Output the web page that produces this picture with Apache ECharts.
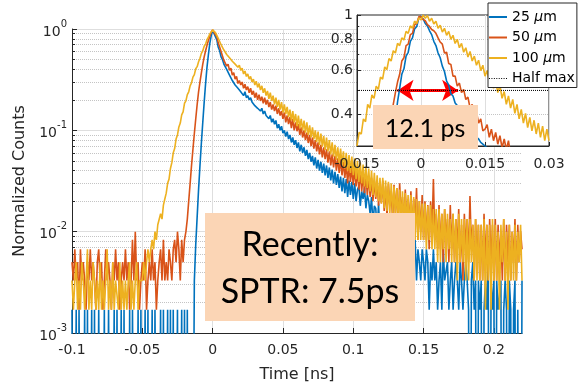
<!DOCTYPE html>
<html><head><meta charset="utf-8">
<script src="https://cdn.jsdelivr.net/npm/echarts@6/dist/echarts.min.js"></script>
<style>html,body{margin:0;padding:0;background:#fff}#c{width:582px;height:388px}</style>
</head><body><div id="c"></div>
<script>
// ---------- data ----------
const seriesNames = ['25 \u03bcm', '50 \u03bcm', '100 \u03bcm'];
const halfMaxName = 'Half max';
const colors = ['#0072BD', '#D95319', '#EDB120'];

// main plot: histogram bins every 1 ps from -0.1 ns
const mainT0 = -0.1, mainDt = 0.001;
const main25 = [
.0017,0,0,.0017,0,.0017,.0017,0,0,.0017,
0,.0017,0,0,.0017,0,.0017,0,0,.0017,
.0017,0,0,.0017,0,0,.0017,.0017,0,0,
.0017,0,.0017,0,0,.0017,0,.0017,0,0,
0,.0017,0,.0017,.0017,0,0,.0017,0,.0017,
0,0,.0017,0,.0017,0,0,.0017,0,.0017,
.0017,0,0,.0017,0,.0017,0,0,.0017,0,
.0017,0,.0017,0,0,.0017,0,0,.0017,0,
.0017,0,.0017,0,0,0,0,.0033,.0075,.014,
.026,.045,.075,.12,.19,.29,.42,.56,.72,.86,
.97,.94,.84,.78,.66,.61,.53,.50,.45,.44,
.40,.39,.35,.35,.31,.31,.28,.29,.26,.27,
.24,.25,.22,.24,.21,.22,.20,.21,.19,.19,
.175,.18,.165,.17,.155,.165,.145,.155,.14,.145,
.13,.14,.12,.13,.115,.125,.105,.115,.10,.11,
.094,.10,.087,.097,.082,.09,.076,.085,.072,.08,
.067,.076,.062,.072,.06,.068,.056,.064,.052,.06,
.049,.056,.045,.054,.042,.051,.04,.049,.038,.047,
.036,.045,.034,.043,.032,.041,.03,.039,.029,.037,
.027,.035,.025,.034,.024,.033,.022,.032,.023,.031,
.021,.03,.02,.026,.028,.018,.025,.021,.027,.017,
.023,.02,.015,.022,.0117,.018,.017,.01,.019,.0083,
.015,.0133,.0083,.0117,.01,.0067,.0117,.0083,.0117,.0067,
.0083,.0083,.005,.0067,.01,.005,.0067,.0033,.0083,.005,
.0067,.0067,.0033,.005,.0083,.0033,.0067,.005,.0033,.0067,
.005,.0033,.0067,.005,.0017,.005,.0033,.0067,.0033,.005,
.0017,.0033,.005,.0017,.0067,.0033,.0033,.005,.0017,.0033,
.005,.0017,.0033,.005,.0033,.0017,.005,.0033,.0017,.0033,
.005,.0033,.0017,0,.0033,.005,.0017,.0033,0,.0033,
.0017,.0033,0,.0017,.0033,.0017,.005,0,.0033,.0017,
.0033,0,.0033,.0017,.0017,.0033,0,.0017,.0033,.0017,
0,.0033,.0017,0,.0017,.0033,0,.0017,.0017,0,
.0033
];
const main50 = [
.005,.0033,.0067,.0033,.005,.0017,.0067,.0033,.005,.0033,
.0017,.005,.0033,.0067,.0033,.005,.0033,.0017,.005,.0067,
.0033,.005,.0017,.0033,.0067,.0033,.005,.0033,.0017,.005,
.0033,.0067,.0033,.005,.0017,.0033,.005,.0033,.0067,.0033,
.005,.0017,.0033,.0083,.0033,.01,.0033,.005,.0017,.0033,
.005,.0033,.0067,.0017,.0033,.005,.0033,.0067,.0033,.005,
.0017,.0033,.005,.0067,.0033,.0083,.0033,.005,.0033,.0067,
.005,.0033,.0067,.0083,.005,.01,.0067,.0033,.0083,.005,
.0083,.01,.0133,.02,.03,.045,.065,.093,.13,.18,
.24,.30,.37,.45,.53,.61,.69,.77,.85,.93,
.98,.96,.88,.84,.73,.70,.60,.58,.49,.50,
.43,.45,.39,.41,.35,.37,.32,.34,.29,.31,
.28,.30,.26,.285,.25,.27,.235,.26,.225,.245,
.21,.235,.20,.225,.195,.215,.185,.21,.18,.20,
.17,.19,.16,.18,.155,.175,.145,.165,.14,.155,
.13,.15,.12,.14,.115,.135,.105,.13,.10,.12,
.098,.115,.09,.107,.085,.10,.08,.095,.075,.09,
.07,.085,.066,.08,.062,.076,.058,.072,.054,.068,
.052,.065,.048,.062,.045,.058,.043,.056,.04,.053,
.038,.052,.036,.049,.034,.047,.03,.045,.031,.043,
.029,.042,.028,.04,.026,.039,.025,.037,.024,.036,
.023,.035,.022,.034,.02,.032,.021,.031,.018,.03,
.019,.032,.016,.028,.014,.03,.018,.025,.013,.029,
.015,.027,.012,.03,.015,.022,.0117,.026,.013,.021,
.0117,.025,.01,.021,.0117,.027,.0083,.02,.01,.023,
.0083,.02,.0083,.0183,.0067,.02,.01,.033,.0083,.015,
.0067,.0183,.0067,.015,.005,.0167,.0083,.0133,.005,.0183,
.0067,.015,.005,.0133,.0067,.0167,.005,.0117,.0033,.015,
.0067,.0133,.005,.0225,.0067,.0117,.0033,.0133,.005,.0117,
.0033,.0117,.0033,.015,.005,.0117,.0033,.0133,.005,.0117,
.0033,.0133,.0033,.0117,.005,.01,.0033,.0133,.0033,.0117,
.005,.0117,.0033,.01,.005,.0133,.0033,.0117,.005,.01,
.0067
];
const main100 = [
.0033,.0017,.0033,.005,.0017,.0033,.0017,.005,.0033,.0017,
.0033,.0067,.0017,.0033,.0017,.005,.0033,.0017,.0033,.0017,
.005,.0017,.0033,.0017,.0033,.0067,.0017,.0033,.0017,.005,
.0017,.0033,.0033,.0017,.005,.0017,.0033,.0017,.0033,.0017,
.0033,.005,.0017,.0033,.0017,.0033,.005,.0017,.0033,.0033,
.0033,.005,.0033,.005,.0067,.005,.0067,.0083,.0067,.01,
.0083,.0117,.0117,.015,.0133,.0183,.021,.024,.03,.033,
.042,.048,.06,.066,.082,.09,.108,.118,.142,.152,
.185,.195,.225,.24,.275,.295,.335,.355,.405,.425,
.475,.515,.575,.61,.675,.71,.785,.83,.895,.93,
.98,.97,.92,.89,.81,.79,.70,.70,.62,.63,
.56,.58,.52,.54,.48,.50,.45,.47,.42,.44,
.39,.41,.36,.385,.34,.36,.32,.34,.30,.32,
.28,.305,.265,.29,.25,.275,.235,.26,.22,.245,
.205,.235,.195,.22,.18,.21,.17,.20,.16,.19,
.15,.18,.145,.17,.135,.16,.125,.155,.12,.145,
.11,.14,.105,.13,.10,.125,.095,.12,.09,.112,
.085,.107,.082,.10,.077,.097,.072,.093,.069,.088,
.064,.085,.062,.08,.058,.076,.055,.072,.051,.068,
.048,.066,.045,.062,.042,.06,.04,.057,.038,.055,
.036,.053,.033,.05,.031,.048,.03,.046,.028,.044,
.027,.042,.025,.04,.023,.038,.022,.036,.02,.034,
.019,.034,.017,.032,.016,.031,.015,.03,.015,.028,
.014,.027,.013,.026,.012,.025,.0117,.024,.0117,.023,
.01,.023,.01,.022,.0083,.021,.0083,.02,.0083,.019,
.0083,.019,.0067,.018,.0083,.0183,.0067,.0167,.0067,.0167,
.005,.0167,.005,.015,.0067,.0167,.005,.015,.0067,.0133,
.005,.015,.005,.0133,.0033,.015,.005,.0133,.005,.0133,
.0033,.0133,.0033,.0133,.005,.0117,.0033,.0133,.0033,.0117,
.0033,.0117,.0033,.0133,.0017,.0117,.0033,.0117,.0017,.0133,
.0033,.0117,.0033,.01,.0017,.0117,.005,.0133,.0033,.01,
.0017,.0117,.0033,.01,.0033,.0117,.0033,.01,.005,.0117,
.0033
];

// inset: bins every 0.5 ps from -0.015 ns
const insetT0 = -0.015, insetDt = 0.0005;
const inset25 = [
.002,.0025,.003,.004,.005,.007,.01,.014,.02,.03,
.045,.065,.09,.12,.16,.2,.25,.31,.38,.45,
.51,.58,.61,.685,.71,.785,.81,.88,.90,.975,
.99,.965,.925,.905,.865,.835,.785,.755,.705,.675,
.625,.595,.545,.525,.485,.475,.445,.435,.405,.395,
.38,.37,.36,.35,.34,.33,.325,.32,.31,.305,
.30,.295,.29,.285,.28,.275,.27,.265,.26,.255,
.25,.248,.245,.242,.24,.238,.235,.232,.23,.228,
.226,.224,.222,.22,.218,.216,.214,.212,.21,.208,.206
];
const inset50 = [
.04,.05,.06,.07,.08,.09,.10,.115,.13,.145,
.16,.19,.22,.26,.30,.34,.39,.44,.49,.54,
.58,.655,.675,.755,.765,.835,.845,.915,.925,.985,
.985,.96,.95,.915,.90,.875,.865,.845,.81,.78,
.765,.705,.71,.64,.635,.57,.57,.52,.535,.49,
.505,.46,.47,.425,.44,.395,.41,.37,.385,.345,
.35,.365,.325,.35,.315,.34,.305,.33,.295,.32,
.29,.315,.275,.295,.265,.285,.26,.275,.255,.27,
.258,.262,.255,.258,.252,.255,.25,.252,.248,.25,.245
];
const inset100 = [
.30,.34,.335,.385,.375,.44,.425,.48,.465,.52,
.505,.565,.555,.62,.605,.67,.655,.72,.705,.77,
.755,.81,.795,.86,.845,.905,.885,.945,.925,.975,
.955,1.0,.97,.995,.945,.97,.92,.945,.885,.91,
.855,.885,.83,.86,.80,.83,.77,.80,.74,.77,
.71,.74,.68,.715,.655,.685,.63,.66,.60,.63,
.57,.60,.54,.57,.51,.545,.49,.525,.465,.495,
.44,.475,.425,.46,.405,.44,.385,.42,.37,.405,
.355,.39,.345,.38,.335,.37,.325,.36,.315,.35,.315
];
const halfMax = 0.5;
const fwhmArrow = [-0.0055, 0.0087];   // ends of the red FWHM arrow (ns)
const fwhmLabel = '12.1 ps';
const noteLines = ['Recently:', 'SPTR: 7.5ps'];

// axis ranges / ticks
const mainX = {min: -0.1, max: 0.22, interval: 0.05};
const mainXTicks = [-0.1, -0.05, 0, 0.05, 0.1, 0.15, 0.2];
const mainY = {min: 0.001, max: 1};
const insetX = {min: -0.015, max: 0.03, interval: 0.015};
const insetY = {min: 0.3, max: 1};
const insetYTicks = [0.4, 0.6, 0.8, 1];

// ---------- build ----------
const ZERO = 1e-7; // zero-count bins fall below the log axis (clipped)
function pairs(t0, dt, arr) {
  return arr.map((v, i) => [+(t0 + i * dt).toFixed(5), v > 0 ? v : ZERO]);
}
const mainMinor = [];
[0.001, 0.01, 0.1].forEach(d => { for (let m = 2; m <= 9; m++) mainMinor.push(+(m * d).toPrecision(2)); });
const insetMinor = [0.3, 0.4, 0.5, 0.6, 0.7, 0.8, 0.9];

const FONT = 'DejaVu Sans';
const AX = '#262626';
const GRID = '#dedede';
const MINOR = '#c4c4c4';

const mainData = [main25, main50, main100];
const insetData = [inset25, inset50, inset100];

const series = [];
mainData.forEach((arr, k) => series.push({
  name: seriesNames[k], type: 'line', xAxisIndex: 0, yAxisIndex: 0,
  data: pairs(mainT0, mainDt, arr), symbol: 'none', showSymbol: false,
  lineStyle: {width: 1.6, color: colors[k]}, itemStyle: {color: colors[k]},
  z: 2, animation: false, clip: true
}));
insetData.forEach((arr, k) => series.push({
  name: seriesNames[k], type: 'line', xAxisIndex: 1, yAxisIndex: 2,
  data: pairs(insetT0, insetDt, arr), symbol: 'none', showSymbol: false,
  lineStyle: {width: 1.6, color: colors[k]}, itemStyle: {color: colors[k]},
  z: 6, animation: false, clip: true
}));
series.push({
  name: halfMaxName, type: 'line', xAxisIndex: 1, yAxisIndex: 2,
  data: [[insetX.min, halfMax], [insetX.max, halfMax]], symbol: 'none',
  lineStyle: {width: 1, color: '#000', type: 'dotted'}, itemStyle: {color: '#000'},
  z: 7, animation: false,
  markLine: {
    silent: true, animation: false, symbol: ['arrow', 'arrow'], symbolSize: [16, 16],
    lineStyle: {color: '#ff0000', width: 3, type: 'solid'}, label: {show: false},
    data: [[{coord: [fwhmArrow[0], halfMax]}, {coord: [fwhmArrow[1], halfMax]}]]
  }
});

const tickLabel = {fontFamily: FONT, fontSize: 14, color: AX};
const dottedIcon = 'path://M0,0h1v1h-1zM2.5,0h1v1h-1zM5,0h1v1h-1zM7.5,0h1v1h-1zM10,0h1v1h-1zM12.5,0h1v1h-1zM15,0h1v1h-1zM17.5,0h1v1h-1z';

const option = {
  animation: false,
  backgroundColor: '#fff',
  grid: [
    {left: 72, top: 29, width: 450, height: 306},
    {left: 357, top: 15, width: 192, height: 131, show: true, backgroundColor: '#fff',
     borderColor: AX, borderWidth: 1, z: 3}
  ],
  xAxis: [
    {type: 'value', gridIndex: 0, position: 'bottom', min: mainX.min, max: mainX.max, interval: mainX.interval,
     axisLine: {onZero: false, lineStyle: {color: AX}},
     axisTick: {inside: true, length: 5, lineStyle: {color: AX}, customValues: mainXTicks},
     axisLabel: Object.assign({margin: 10, customValues: mainXTicks,
       formatter: v => String(Math.round(v * 1000) / 1000)}, tickLabel),
     splitLine: {show: true, lineStyle: {color: GRID}},
     name: 'Time [ns]', nameLocation: 'middle', nameGap: 34,
     nameTextStyle: {fontFamily: FONT, fontSize: 16, color: AX}},
    {type: 'value', gridIndex: 1, position: 'bottom', min: insetX.min, max: insetX.max, interval: insetX.interval,
     axisLine: {onZero: false, lineStyle: {color: AX}}, axisTick: {inside: true, length: 4, lineStyle: {color: AX}},
     axisLabel: Object.assign({margin: 11, formatter: v => String(Math.round(v * 10000) / 10000)}, tickLabel),
     splitLine: {show: true, lineStyle: {color: GRID}}, z: 4}
  ],
  yAxis: [
    {type: 'log', logBase: 10, gridIndex: 0, position: 'left', min: mainY.min, max: mainY.max,
     axisLine: {show: true, onZero: false, lineStyle: {color: AX}},
     axisTick: {inside: true, length: 5, lineStyle: {color: AX}},
     axisLabel: {margin: 5, formatter: v => '{b|10}{s|' + Math.round(Math.log10(v)) + '}',
       rich: {b: {fontFamily: FONT, fontSize: 14, color: AX, lineHeight: 20, verticalAlign: 'bottom'},
              s: {fontFamily: FONT, fontSize: 10, color: AX, lineHeight: 20, verticalAlign: 'top'}}},
     splitLine: {show: true, lineStyle: {color: GRID}},
     name: 'Normalized Counts', nameLocation: 'middle', nameGap: 35, nameRotate: 90,
     nameTextStyle: {fontFamily: FONT, fontSize: 16, color: AX}},
    {type: 'log', logBase: 10, gridIndex: 0, position: 'left', offset: 0, min: mainY.min, max: mainY.max,
     axisLine: {show: false, onZero: false}, axisLabel: {show: false},
     axisTick: {show: true, inside: true, length: 3, lineStyle: {color: AX}, customValues: mainMinor},
     splitLine: {show: true, lineStyle: {color: MINOR, type: 'dotted'}}},
    {type: 'log', logBase: 10, gridIndex: 1, position: 'left', min: insetY.min, max: insetY.max,
     axisLine: {show: true, onZero: false, lineStyle: {color: AX}},
     axisTick: {inside: true, length: 4, lineStyle: {color: AX}, customValues: insetYTicks},
     axisLabel: Object.assign({margin: 4, customValues: insetYTicks,
       formatter: v => String(Math.round(v * 10) / 10)}, tickLabel),
     splitLine: {show: false}, z: 4},
    {type: 'log', logBase: 10, gridIndex: 1, position: 'left', offset: 0, min: insetY.min, max: insetY.max,
     axisLine: {show: false, onZero: false}, axisLabel: {show: false},
     axisTick: {show: true, inside: true, length: 2, lineStyle: {color: AX}, customValues: insetMinor},
     splitLine: {show: true, lineStyle: {color: MINOR, type: 'dotted'}}, z: 4}
  ],
  legend: {
    orient: 'vertical', left: 488, top: 3, padding: [7, 2, 2, 1],
    itemWidth: 18, itemHeight: 2, itemGap: 6.5, selectedMode: false,
    data: seriesNames.map(n => ({name: n, icon: 'rect'})).concat([{name: halfMaxName, icon: dottedIcon}]),
    backgroundColor: '#fff', borderColor: AX, borderWidth: 1, z: 10,
    formatter: n => n.replace('\u03bc', '{i|\u03bc}'),
    textStyle: {fontFamily: FONT, fontSize: 14, color: '#000', lineHeight: 14,
      rich: {i: {fontFamily: FONT, fontSize: 14, fontStyle: 'italic', color: '#000', lineHeight: 14}}}
  },
  graphic: [
    {type: 'rect', z: 50, shape: {x: 373, y: 105, width: 105, height: 44}, style: {fill: '#FBD5B5'}},
    {type: 'text', z: 51, x: 425, y: 129, style: {text: fwhmLabel, fontFamily: 'Lato', fontSize: 25,
      fill: '#000', align: 'center', verticalAlign: 'middle'}},
    {type: 'rect', z: 50, shape: {x: 205, y: 213, width: 210, height: 108}, style: {fill: '#FBD5B5'}},
    {type: 'text', z: 51, x: 310, y: 245, style: {text: noteLines[0], fontFamily: 'Lato', fontSize: 34,
      fill: '#000', align: 'center', verticalAlign: 'middle'}},
    {type: 'text', z: 51, x: 310, y: 292, style: {text: noteLines[1], fontFamily: 'Lato', fontSize: 34,
      fill: '#000', align: 'center', verticalAlign: 'middle'}}
  ],
  series: series
};
const chart = echarts.init(document.getElementById('c'), null, {renderer: 'canvas'});
chart.setOption(option);
</script>
</body></html>
